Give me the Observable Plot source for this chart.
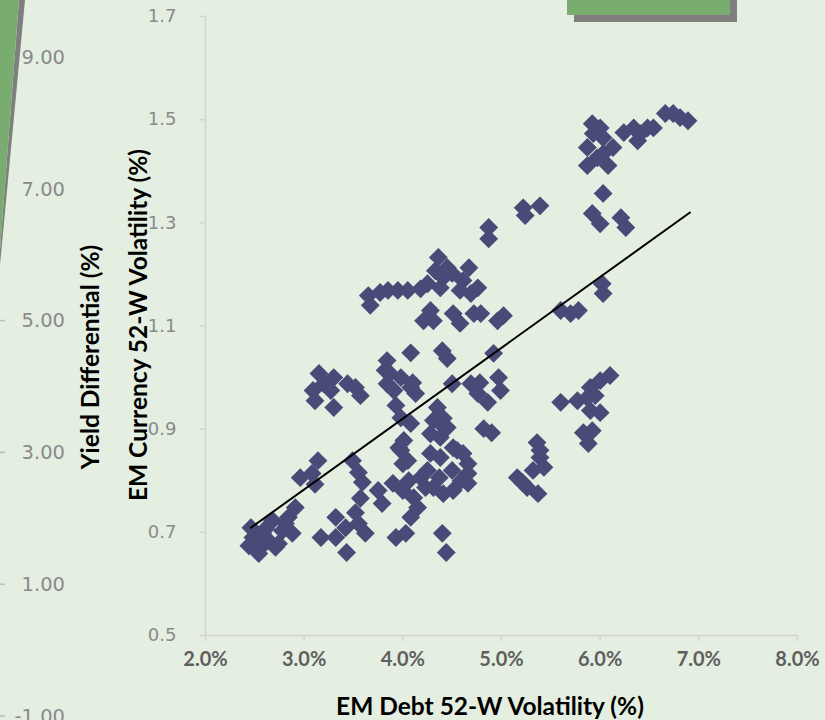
<!DOCTYPE html>
<html><head><meta charset="utf-8">
<script src="https://cdn.jsdelivr.net/npm/d3@7"></script>
<script src="https://cdn.jsdelivr.net/npm/@observablehq/plot@0.6"></script>
<style>
html,body{margin:0;padding:0;background:#e4eee1;}
#chart{width:825px;height:720px;overflow:hidden;position:relative;}
</style></head><body><div id="chart"></div>
<script>
// EM Debt 52-W volatility (%)
const debtVol = [
  2.46,2.48,2.56,2.54,2.64,2.68,2.74,2.78,2.88,2.84,2.91,2.96,3.08,3.14,3.11,3.17,3.32,3.32,3.42,3.43,
  3.52,3.55,3.62,3.49,3.55,3.59,3.57,3.75,3.79,3.90,4.00,4.06,3.96,4.00,3.93,4.03,4.08,4.11,4.15,4.40,
  4.44,2.44,2.61,2.81,2.58,2.71,
  3.15,3.09,3.11,3.20,3.30,3.27,3.44,3.52,3.57,3.30,
  4.08,3.84,3.82,3.87,3.84,3.98,4.08,4.13,3.91,4.10,3.93,3.98,4.08,
  4.40,4.45,4.50,4.69,4.76,4.92,4.86,4.78,4.97,4.99,
  4.35,4.31,4.38,4.28,4.38,4.82,4.90,4.01,3.98,4.28,4.55,4.41,4.45,
  4.38,4.51,4.61,4.66,4.66,4.66,4.51,4.41,4.31,4.05,4.18,4.25,4.23,4.37,4.50,4.59,
  3.65,3.67,3.77,3.85,3.95,4.05,4.18,4.25,4.36,4.33,4.41,4.45,4.38,4.50,4.67,4.61,4.58,4.69,4.76,
  4.28,4.21,4.31,4.51,4.58,4.72,4.79,5.02,4.96,4.87,4.87,
  5.70,5.60,5.78,6.02,6.03,
  5.60,5.77,5.87,5.90,6.00,6.10,5.90,6.00,5.83,5.92,5.88,5.95,
  5.36,5.39,5.43,5.32,5.16,5.26,5.37,5.39,5.21,
  5.92,6.00,5.93,6.03,5.87,6.13,5.97,5.87,6.08,6.03,6.24,6.34,6.41,6.38,6.48,6.54,6.66,6.74,6.81,6.89,
  6.03,5.92,6.00,6.21,6.26,5.22,5.24,5.39
];
// EM Currency 52-W volatility (%)
const fxVol = [
  0.709,0.690,0.671,0.659,0.684,0.723,0.678,0.703,0.698,0.729,0.748,0.806,0.814,0.839,0.793,0.690,0.729,0.690,0.709,0.661,
  0.738,0.717,0.698,0.839,0.816,0.797,0.766,0.781,0.756,0.795,0.781,0.800,0.864,0.833,0.690,0.698,0.729,0.767,0.748,0.698,
  0.661,0.674,0.707,0.717,0.698,0.671,
  1.008,0.975,0.955,0.988,1.000,0.975,0.988,0.981,0.965,0.942,
  1.048,1.033,1.014,1.008,0.988,1.000,0.981,0.969,0.975,0.990,0.946,0.922,0.911,
  1.052,1.037,0.988,0.988,0.969,1.047,0.952,0.990,1.000,0.975,
  0.942,0.917,0.911,0.891,0.884,0.901,0.893,0.878,0.859,0.853,0.859,0.921,0.903,
  0.845,0.864,0.853,0.833,0.814,0.795,0.781,0.775,0.787,0.839,0.806,0.820,0.787,0.806,0.820,0.800,
  1.159,1.140,1.165,1.169,1.169,1.169,1.172,1.182,1.233,1.207,1.194,1.213,1.174,1.202,1.213,1.188,1.169,1.163,1.174,
  1.130,1.110,1.110,1.124,1.105,1.124,1.124,1.120,1.110,1.291,1.269,
  1.124,1.130,1.130,1.182,1.163,
  0.952,0.955,0.961,0.981,0.994,1.004,0.936,0.932,0.893,0.897,0.872,0.965,
  0.874,0.845,0.826,0.820,0.806,0.787,0.775,0.859,0.797,
  1.492,1.484,1.473,1.465,1.446,1.446,1.426,1.411,1.411,1.434,1.475,1.484,1.473,1.459,1.484,1.484,1.512,1.512,1.504,1.498,
  1.357,1.318,1.298,1.310,1.291,1.329,1.314,1.333
];
// linear trend line end points
const trendDebt = [2.46, 6.91];
const trendFx = [0.709, 1.320];

const xTicks = [2, 3, 4, 5, 6, 7, 8];
const yTicks = [0.5, 0.7, 0.9, 1.1, 1.3, 1.5, 1.7];
const yieldTicks = [-1, 1, 3, 5, 7, 9];
const xTitle = "EM Debt 52-W Volatility (%)";
const yTitle = "EM Currency 52-W Volatility (%)";
const yieldTitle = "Yield Differential (%)";

const points = debtVol.map((d, i) => ({x: d, y: fxVol[i]}));
const trend = trendDebt.map((d, i) => ({x: d, y: trendFx[i]}));

const plot = Plot.plot({
  width: 825, height: 720,
  marginLeft: 205, marginRight: 28, marginTop: 16, marginBottom: 85,
  style: {background: "#e4eee1", fontFamily: "Lato, sans-serif", overflow: "visible"},
  x: {domain: [2, 8]},
  y: {domain: [0.5, 1.7]},
  marks: [
    Plot.ruleX([2], {stroke: "#d3d3d3", strokeWidth: 1.5}),
    Plot.ruleY([0.5], {stroke: "#d3d3d3", strokeWidth: 1.5}),
    Plot.axisX({ticks: xTicks, tickSize: 6, tickPadding: 10, tickFormat: d => d.toFixed(1) + "%",
      fontSize: 20, fontWeight: "bold", fill: "#5f5f5f", stroke: "#d3d3d3", strokeWidth: 1.5, label: null}),
    Plot.axisY({ticks: yTicks, tickSize: 5, tickPadding: 24, tickFormat: d => d.toFixed(1),
      fontSize: 18, fontFamily: "DejaVu Sans", fill: "#8a8a8a", stroke: "#d3d3d3", strokeWidth: 1.5, label: null}),
    Plot.dot(points, {x: "x", y: "y", symbol: "diamond2", r: 8.5, fill: "#4a4a78", stroke: "none"}),
    Plot.line(trend, {x: "x", y: "y", stroke: "#000", strokeWidth: 2})
  ]
});

const svg = d3.select(plot);
// secondary (left) axis from overlapping chart
const yy = d3.scaleLinear().domain([-1, 9]).range([716, 57]);
const g2 = svg.append("g");
g2.selectAll("line").data(yieldTicks).join("line")
  .attr("x1", 0).attr("x2", 5).attr("y1", d => yy(d)).attr("y2", d => yy(d))
  .attr("stroke", "#bdbdbd").attr("stroke-width", 1.5);
g2.selectAll("text").data(yieldTicks).join("text")
  .attr("x", 65).attr("y", d => yy(d)).attr("dy", "0.35em")
  .attr("text-anchor", "end").attr("font-family", "DejaVu Sans").attr("font-size", 19.5)
  .attr("fill", "#8a8a8a").text(d => d.toFixed(2));

// decorative shapes (pieces of overlapping chart objects)
svg.append("polygon").attr("points", "19,0 25,0 0,265 0,250").attr("fill", "#7f7f7f");
svg.append("polygon").attr("points", "0,0 19,0 0,250").attr("fill", "#79ad6f");
svg.append("rect").attr("x", 574).attr("y", 0).attr("width", 163).attr("height", 22).attr("fill", "#7f7f7f");
svg.append("rect").attr("x", 567).attr("y", 0).attr("width", 163).attr("height", 15).attr("fill", "#79ad6f");

// titles
const titleFont = 24.5;
svg.append("text").attr("x", 490).attr("y", 715).attr("text-anchor", "middle")
  .attr("font-family", "Lato").attr("font-weight", "bold").attr("font-size", titleFont).attr("fill", "#000").text(xTitle);
svg.append("text").attr("transform", "translate(147,325) rotate(-90)").attr("text-anchor", "middle")
  .attr("font-family", "Lato").attr("font-weight", "bold").attr("font-size", titleFont).attr("fill", "#000").text(yTitle);
svg.append("text").attr("transform", "translate(99,357) rotate(-90)").attr("text-anchor", "middle")
  .attr("font-family", "Lato").attr("font-weight", "bold").attr("font-size", titleFont).attr("fill", "#000").text(yieldTitle);

document.getElementById("chart").appendChild(plot);
</script></body></html>
